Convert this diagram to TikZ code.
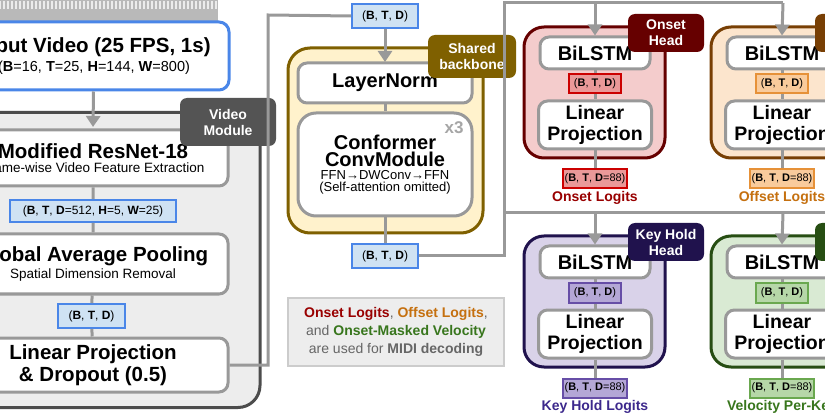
\documentclass[tikz,border=0pt]{standalone}
\usepackage{fontspec}
\setmainfont{Liberation Sans}
\usetikzlibrary{arrows.meta}
\definecolor{bord}{HTML}{999999}
\definecolor{dimf}{HTML}{CFE2F3}
\definecolor{dimb}{HTML}{4A86E8}
\definecolor{bbf}{HTML}{FFF2CC}
\definecolor{bbb}{HTML}{7F6000}
\definecolor{onf}{HTML}{F4CCCC}\definecolor{onb}{HTML}{660000}\definecolor{ond}{HTML}{EA9999}\definecolor{one}{HTML}{CC0000}\definecolor{ont}{HTML}{990000}
\definecolor{off}{HTML}{FCE5CD}\definecolor{ofb}{HTML}{783F04}\definecolor{ofd}{HTML}{F9CB9C}\definecolor{ofe}{HTML}{E69138}\definecolor{oft}{HTML}{C5700F}
\definecolor{khf}{HTML}{D9D2E9}\definecolor{khb}{HTML}{20124D}\definecolor{khd}{HTML}{B4A7D6}\definecolor{khe}{HTML}{674EA7}\definecolor{kht}{HTML}{3C288C}
\definecolor{vef}{HTML}{D9EAD3}\definecolor{veb}{HTML}{274E13}\definecolor{ved}{HTML}{B6D7A8}\definecolor{vee}{HTML}{6AA84F}\definecolor{vet}{HTML}{38761D}
\tikzset{
 blk/.style={draw=bord,line width=3pt,fill=white,rounded corners=9pt,align=center,inner sep=0pt},
 dimbox/.style={draw=dimb,line width=2pt,fill=dimf,font=\fontsize{12}{13}\selectfont,inner sep=0pt,minimum height=22pt},
 lbl/.style={rounded corners=7pt,text=white,font=\bfseries\fontsize{14}{16}\selectfont,align=center,inner sep=0pt},
 con/.style={draw=bord,line width=3pt},
 arr/.style={con,-{Triangle[length=11pt,width=14pt]}},
}
\newcommand{\dimtxt}[1]{(\textbf{B}, \textbf{T}, \textbf{D}#1)}
\newcommand{\headblk}[5]{%
 \begin{scope}[shift={(#2,#3)}]
 \node[draw=#1b,fill=#1f,line width=3pt,rounded corners=20pt,minimum width=141pt,minimum height=131pt,inner sep=0pt] (#1o) at (70.5,65.5) {};
 \node[blk,minimum width=110pt,minimum height=32pt,font=\bfseries\fontsize{20}{21}\selectfont] (#1B) at (71,26) {BiLSTM};
 \node[blk,minimum width=113pt,minimum height=48pt,font=\bfseries\fontsize{19.5}{20.5}\selectfont] (#1L) at (71,98) {Linear\\Projection};
 \node[dimbox,fill=#1d,draw=#1e,minimum width=52pt,minimum height=19pt,font=\fontsize{11}{12}\selectfont] (#1D) at (71,57) {\dimtxt{}};
 \node[dimbox,fill=#1d,draw=#1e,minimum width=64pt,minimum height=19pt,font=\fontsize{11}{12}\selectfont] (#1E) at (71,152) {\dimtxt{=88}};
 \node[text=#1t,font=\bfseries\fontsize{14}{15}\selectfont] (#1T) at (71,171) {#5};
 \node[lbl,fill=#1b,minimum width=76pt,minimum height=38pt] (#1H) at (142,6) {#4};
 \end{scope}
 \draw[con] (#1B) -- (#1D) -- (#1L) -- (#1E);
}
\begin{document}
\begin{tikzpicture}[x=1pt,y=-1pt]
\useasboundingbox (0,0) rectangle (825,414);
\clip (0,0) rectangle (825,414);
\fill[white] (0,0) rectangle (825,414);
% video strip
\fill[gray!55] (0,0) rectangle (218,22);
\foreach \i in {0,4,...,216} \draw[white!85!gray,line width=1.2pt] (\i,1) -- (\i,9);
% input video
\node[draw=dimb,line width=3pt,fill=white,rounded corners=10pt,minimum width=270pt,minimum height=68pt,align=center,inner sep=0pt] (inp) at (94,56)
 {{\bfseries\fontsize{20.5}{22}\selectfont Input Video (25 FPS, 1s)}\\[4pt]
 {\fontsize{14.5}{16}\selectfont (\textbf{B}=16, \textbf{T}=25, \textbf{H}=144, \textbf{W}=800)}};
% video module
\node[draw=black!70,fill=black!7,line width=3pt,rounded corners=22pt,minimum width=290pt,minimum height=295pt,inner sep=0pt] (vm) at (115,260) {};
\node[blk,minimum width=270pt,minimum height=56pt] (res) at (93,158)
 {{\bfseries\fontsize{20.5}{22}\selectfont Modified ResNet-18}\\[2pt]{\fontsize{13.5}{15}\selectfont Frame-wise Video Feature Extraction}};
\node[blk,minimum width=270pt,minimum height=60pt] (gap) at (93,264)
 {{\bfseries\fontsize{20.5}{22}\selectfont Global Average Pooling}\\[2pt]{\fontsize{13.5}{15}\selectfont Spatial Dimension Removal}};
\node[blk,minimum width=270pt,minimum height=54pt] (lp) at (93,365)
 {{\bfseries\fontsize{20.5}{22}\selectfont Linear Projection}\\[2pt]{\bfseries\fontsize{20.5}{22}\selectfont \& Dropout (0.5)}};
\node[dimbox,minimum width=166pt] (d1) at (93,211) {(\textbf{B}, \textbf{T}, \textbf{D}=512, \textbf{H}=5, \textbf{W}=25)};
\node[dimbox,minimum width=67pt,minimum height=24pt] (d2) at (91.5,316) {\dimtxt{}};
\draw[con] (res) -- (d1) -- (gap) -- (d2) -- (lp);
\node[lbl,fill=black!67,minimum width=96pt,minimum height=48pt] (vml) at (228,122) {Video\\Module};
\draw[arr] (inp) -- (93,127);
% backbone
\node[draw=bbb,fill=bbf,line width=3pt,rounded corners=22pt,minimum width=195pt,minimum height=185pt,inner sep=0pt] (bb) at (385.5,140.5) {};
\node[dimbox,minimum width=66pt,minimum height=24pt] (dt) at (385,16) {\dimtxt{}};
\node[blk,minimum width=174pt,minimum height=40pt,font=\bfseries\fontsize{20}{21}\selectfont] (ln) at (385,83) {LayerNorm};
\node[blk,rounded corners=18pt,minimum width=174pt,minimum height=103pt] (cf) at (385,164.5)
 {{\bfseries\fontsize{20}{22}\selectfont Conformer}\\[1pt]{\bfseries\fontsize{20}{22}\selectfont ConvModule}\\[1pt]
 {\fontsize{13}{15}\selectfont FFN→DWConv→FFN}\\{\fontsize{13}{15}\selectfont (Self-attention omitted)}};
\node[text=black!35,font=\bfseries\fontsize{17}{18}\selectfont] (x3) at (454,128) {x3};
\node[lbl,fill=bbb,minimum width=88pt,minimum height=43pt] (bbl) at (472,56.5) {Shared\\backbone};
\node[dimbox,minimum width=66pt,minimum height=24pt] (db) at (385,256) {\dimtxt{}};
\draw[con] (ln) -- (cf) -- (db);
\draw[con] (lp.east) -- (268,365) -- (268,15) -- (dt.west);
\draw[arr] (dt) -- (385,62);
% note
\node[draw=black!20,fill=black!7,line width=1.5pt,minimum width=216pt,minimum height=68pt,align=center,inner sep=0pt,font=\fontsize{14}{18}\selectfont,text=black!60] (note) at (396,332)
 {\textbf{\color{ont}Onset Logits}, \textbf{\color{oft}Offset Logits},\\
 and \textbf{\color{vet}Onset-Masked Velocity}\\ are used for \textbf{MIDI decoding}};
% heads
\headblk{on}{524}{27}{Onset\\Head}{Onset Logits}
\headblk{of}{711}{27}{Offset\\Head}{Offset Logits}
\headblk{kh}{524}{236}{Key Hold\\Head}{Key Hold Logits}
\headblk{ve}{711}{236}{Velocity\\Head}{Velocity Per-Key}
% connectors to heads
\coordinate (tp) at (504,3);
\coordinate (mp) at (504,213);
\draw[con] (db.east) -- (504,256) -- (tp) -- (783,3);
\draw[con] (mp) -- (825,213);
\draw[arr] (595,3) -- (onB.north);
\draw[arr] (783,3) -- (ofB.north);
\draw[arr] (595,213) -- (khB.north);
\draw[arr] (783,213) -- (veB.north);
\end{tikzpicture}
\end{document}
